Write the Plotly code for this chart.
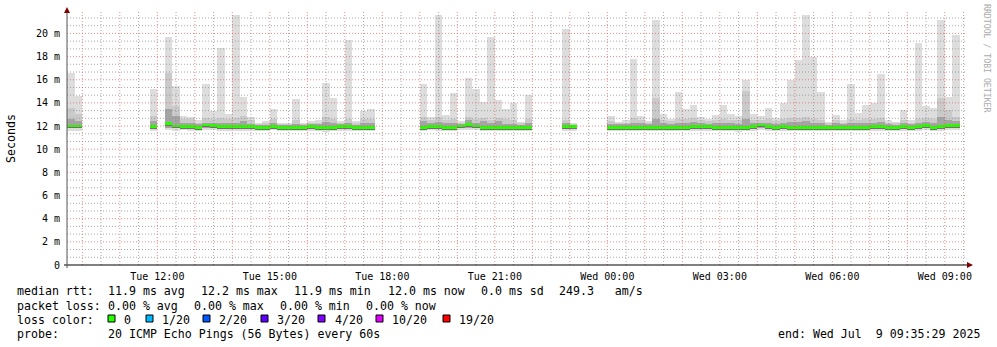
import plotly.graph_objects as go
from datetime import datetime, timedelta

# ---------------- data ----------------
range_start = "2025-07-08 09:35:29"
range_end = "2025-07-09 09:35:29"
first_bin = datetime(2025, 7, 8, 9, 36)   # start of first 12-minute bin
bin_minutes = 12

# index of each 12-min bin that has data (gaps = no data)
bin_index = [0, 1, 11] + list(range(13, 41)) + list(range(47, 62)) + [66, 67] + list(range(72, 119))

rtt_max = [16.6, 14.6, 15.2,
           19.7, 15.5, 12.9, 12.8, 12.5, 15.6, 13.3, 18.7, 13.0, 21.6, 14.5, 12.8, 12.3, 12.4,
           13.5, 12.3, 12.3, 14.3, 12.3, 12.4, 12.5, 15.7, 14.4, 12.4, 19.4, 12.4, 13.3, 13.5,
           15.6, 12.75, 21.6, 12.95, 14.85, 12.45, 16.15, 15.2, 14.1, 19.7, 14.25, 13.45, 13.95, 12.35, 14.7,
           20.4, 12.3,
           12.85, 12.35, 12.5, 17.8, 12.85, 12.45, 21.15, 13.05, 12.6, 14.95, 13.45, 13.8, 12.8, 12.6, 12.95,
           13.8, 13.05, 12.85, 16.0, 13.05, 12.85, 13.55, 12.7, 14.0, 16.0, 17.7, 21.6, 18.0, 14.95, 12.35,
           12.95, 12.5, 15.65, 13.15, 13.8, 14.0, 16.5, 12.5, 12.35, 13.4, 12.5, 19.15, 13.75, 13.55, 21.15,
           14.5, 19.85]

rtt_p19 = [13.6, 13.0, 12.9,
           16.6, 13.7, 12.6, 12.6, 12.3, 12.7, 12.6, 12.7, 12.6, 12.7, 12.9, 12.5, 12.2, 12.25,
           12.6, 12.2, 12.2, 12.5, 12.2, 12.3, 12.3, 12.8, 12.6, 12.3, 12.6, 12.3, 12.6, 12.6,
           12.8, 12.5, 12.8, 12.5, 12.6, 12.3, 12.8, 12.6, 12.7, 12.5, 12.7, 12.6, 12.5, 12.25, 12.6,
           12.5, 12.2,
           12.4, 12.25, 12.3, 12.7, 12.5, 12.3, 14.45, 12.5, 12.4, 12.6, 12.6, 12.7, 12.5, 12.4, 12.5,
           12.6, 12.5, 12.5, 15.0, 12.5, 12.5, 12.6, 12.4, 12.6, 12.7, 12.7, 12.8, 12.6, 12.5, 12.25,
           12.5, 12.3, 12.6, 12.5, 12.6, 12.6, 12.7, 12.3, 12.25, 12.5, 12.3, 12.6, 12.7, 12.6, 14.45,
           13.4, 12.8]

rtt_upq = [12.6, 12.4, 12.4,
           13.5, 12.9, 12.3, 12.3, 12.2, 12.3, 12.3, 12.3, 12.25, 12.3, 12.4, 12.2, 12.1, 12.1,
           12.3, 12.1, 12.1, 12.2, 12.1, 12.15, 12.15, 12.35, 12.25, 12.15, 12.25, 12.1, 12.3, 12.3,
           12.4, 12.3, 12.35, 12.25, 12.3, 12.2, 12.5, 12.3, 12.4, 12.3, 12.4, 12.2, 12.2, 12.1, 12.3,
           12.25, 12.1,
           12.2, 12.15, 12.15, 12.3, 12.25, 12.15, 12.6, 12.25, 12.2, 12.3, 12.3, 12.35, 12.25, 12.2, 12.25,
           12.3, 12.25, 12.2, 12.6, 12.25, 12.3, 12.3, 12.2, 12.3, 12.35, 12.35, 12.4, 12.3, 12.25, 12.1,
           12.25, 12.15, 12.3, 12.25, 12.3, 12.3, 12.35, 12.15, 12.1, 12.25, 12.15, 12.3, 12.35, 12.3, 12.8,
           12.5, 12.4]

rtt_median = [12.0, 12.0, 11.95,
              12.2, 12.0, 11.95, 11.95, 11.9, 12.1, 12.05, 11.95, 11.95, 11.95, 11.95, 11.95, 11.9, 11.9,
              11.95, 11.9, 11.9, 11.9, 11.9, 11.95, 11.9, 11.9, 11.9, 11.95, 11.95, 11.9, 11.9, 11.9,
              11.9, 11.95, 11.95, 11.9, 11.9, 12.0, 12.15, 12.0, 11.9, 11.9, 11.9, 11.9, 11.9, 11.9, 11.9,
              11.95, 11.95,
              11.9, 11.9, 11.9, 11.9, 11.9, 11.9, 11.9, 11.9, 11.9, 11.9, 11.9, 11.95, 11.95, 11.95, 11.9,
              11.9, 11.9, 11.9, 11.9, 11.95, 12.1, 11.95, 11.9, 11.95, 11.85, 11.9, 11.9, 11.9, 11.85, 11.9,
              11.9, 11.9, 11.9, 11.9, 11.9, 11.95, 11.95, 11.9, 11.9, 11.95, 11.9, 11.95, 12.05, 11.9, 11.95,
              12.05, 12.05]

rtt_lowq = [11.8, 11.8, 11.8,
            11.85, 11.8, 11.8, 11.8, 11.75, 11.85, 11.8, 11.75, 11.75, 11.75, 11.8, 11.75, 11.75, 11.75,
            11.8, 11.7, 11.7, 11.7, 11.75, 11.75, 11.7, 11.7, 11.75, 11.75, 11.75, 11.7, 11.75, 11.75,
            11.75, 11.8, 11.75, 11.75, 11.7, 11.8, 11.85, 11.8, 11.7, 11.7, 11.75, 11.75, 11.75, 11.75, 11.75,
            11.75, 11.75,
            11.75, 11.75, 11.7, 11.7, 11.75, 11.75, 11.75, 11.75, 11.75, 11.75, 11.75, 11.75, 11.75, 11.75, 11.7,
            11.75, 11.75, 11.7, 11.75, 11.75, 11.8, 11.75, 11.7, 11.75, 11.7, 11.75, 11.75, 11.75, 11.7, 11.75,
            11.75, 11.75, 11.75, 11.75, 11.7, 11.75, 11.75, 11.75, 11.75, 11.75, 11.75, 11.75, 11.8, 11.75, 11.75,
            11.8, 11.8]

rtt_min = [11.55, 11.6, 11.6,
           11.65, 11.6, 11.65, 11.6, 11.6, 11.7, 11.65, 11.6, 11.6, 11.6, 11.6, 11.55, 11.6, 11.6,
           11.65, 11.55, 11.55, 11.55, 11.6, 11.6, 11.55, 11.5, 11.6, 11.6, 11.6, 11.55, 11.6, 11.6,
           11.6, 11.65, 11.6, 11.6, 11.55, 11.65, 11.7, 11.65, 11.55, 11.55, 11.55, 11.6, 11.6, 11.6, 11.6,
           11.6, 11.6,
           11.6, 11.6, 11.55, 11.55, 11.6, 11.6, 11.55, 11.6, 11.6, 11.6, 11.6, 11.6, 11.6, 11.6, 11.55,
           11.6, 11.6, 11.5, 11.6, 11.6, 11.65, 11.6, 11.55, 11.6, 11.55, 11.6, 11.6, 11.6, 11.55, 11.6,
           11.6, 11.6, 11.6, 11.6, 11.55, 11.6, 11.6, 11.6, 11.6, 11.6, 11.6, 11.6, 11.65, 11.6, 11.6,
           11.65, 11.65]

x_tick_times = ["2025-07-08 12:00", "2025-07-08 15:00", "2025-07-08 18:00", "2025-07-08 21:00",
                "2025-07-09 00:00", "2025-07-09 03:00", "2025-07-09 06:00", "2025-07-09 09:00"]
x_tick_labels = ["Tue 12:00", "Tue 15:00", "Tue 18:00", "Tue 21:00",
                 "Wed 00:00", "Wed 03:00", "Wed 06:00", "Wed 09:00"]
y_tick_vals = [0, 2, 4, 6, 8, 10, 12, 14, 16, 18, 20]
y_tick_labels = ["0", "2 m", "4 m", "6 m", "8 m", "10 m", "12 m", "14 m", "16 m", "18 m", "20 m"]

loss_labels = ["0", "1/20", "2/20", "3/20", "4/20", "10/20", "19/20"]
loss_colors = ["#26ff00", "#00b8ff", "#0059ff", "#5e00ff", "#7e00ff", "#dd00ff", "#ff0000"]

# ---------------- layout geometry ----------------
W_FIG, H_FIG = 997, 347
L, T, W, H = 67, 12, 900, 253
Y_TOP = 21.85
MONO = "DejaVu Sans Mono"
LEG_SIZE = 11.6


def px(x):
    return (x - L) / W


def py(y):
    return (T + H - y) / H


bin_centers = [first_bin + timedelta(minutes=bin_minutes * k + bin_minutes / 2) for k in bin_index]
bin_width_ms = bin_minutes * 60 * 1000


def band(lo, hi, color):
    return go.Bar(x=bin_centers, base=lo, y=[h - l for l, h in zip(lo, hi)],
                  width=bin_width_ms, marker=dict(color=color, line=dict(width=0)),
                  hoverinfo="skip", showlegend=False)


green_half = 0.12
fig = go.Figure()
fig.add_trace(band(rtt_min, rtt_max, "#dddddd"))
fig.add_trace(band(rtt_lowq, rtt_p19, "#cacaca"))
fig.add_trace(band(rtt_lowq, rtt_upq, "#a4a4a4"))
fig.add_trace(band([m - 0.2 for m in rtt_median], [m + 0.02 for m in rtt_median], "#707070"))
fig.add_trace(band([m - green_half for m in rtt_median], [m + green_half for m in rtt_median], loss_colors[0]))

shapes = []
minor_col = "rgba(140,140,140,0.75)"
major_col = "rgba(222,80,80,0.65)"
GRID_DASH = "1px,2px"
t0 = datetime(2025, 7, 8, 10, 0)
for h in range(24):
    tmaj = t0 + timedelta(hours=h)
    shapes.append(dict(type="line", xref="x", yref="paper", x0=tmaj, x1=tmaj,
                       y0=0, y1=1, line=dict(color=major_col, width=1, dash=GRID_DASH), layer="above"))
    tm = t0 + timedelta(hours=h, minutes=30)
    shapes.append(dict(type="line", xref="x", yref="paper", x0=tm, x1=tm,
                       y0=0, y1=1, line=dict(color=minor_col, width=1, dash=GRID_DASH), layer="above"))
for k in range(1, 33):
    v = k * 2 / 3
    is_major = (k % 3 == 0)
    shapes.append(dict(type="line", xref="x", yref="y", x0=range_start, x1=range_end, y0=v, y1=v,
                       line=dict(color=major_col if is_major else minor_col, width=1, dash=GRID_DASH),
                       layer="above"))
# axes and arrows
shapes.append(dict(type="line", xref="paper", yref="paper", x0=px(64), x1=px(968), y0=0, y1=0,
                   line=dict(color="#000000", width=1), layer="above"))
shapes.append(dict(type="line", xref="paper", yref="paper", x0=0, x1=0, y0=py(268), y1=py(12),
                   line=dict(color="#555555", width=1), layer="above"))
shapes.append(dict(type="path", xref="paper", yref="paper",
                   path=f"M {px(967)} {py(262)} L {px(973)} {py(265)} L {px(967)} {py(268)} Z",
                   fillcolor="#7f0000", line=dict(width=0), layer="above"))
shapes.append(dict(type="path", xref="paper", yref="paper",
                   path=f"M {px(64)} {py(13)} L {px(67)} {py(7)} L {px(70)} {py(13)} Z",
                   fillcolor="#7f0000", line=dict(width=0), layer="above"))

# loss colour boxes
box_x = [108, 146, 203, 261, 318, 376, 443]
label_x = [123.3, 161, 218.3, 276, 333.7, 391, 457.7]
for bx, c in zip(box_x, loss_colors):
    shapes.append(dict(type="rect", xref="paper", yref="paper", x0=px(bx), x1=px(bx + 7),
                       y0=py(322), y1=py(315), fillcolor=c, line=dict(color="#000000", width=1)))


def nb(s):
    return s.replace(" ", "\u00a0")


annotations = []


def txt(x, y, s, size=LEG_SIZE, anchor="left", color="#000000", angle=0):
    annotations.append(dict(x=px(x), y=py(y), xref="paper", yref="paper", text=nb(s), showarrow=False,
                            xanchor=anchor, yanchor="middle", textangle=angle,
                            font=dict(family=MONO, size=size, color=color), borderpad=0))


y1, y2, y3, y4 = 291, 305.5, 319.5, 333.5
for x, s in [(16, "median rtt:"), (107.3, "11.9 ms avg"), (200, "12.2 ms max"), (293.3, "11.9 ms min"),
             (386.7, "12.0 ms now"), (480, "0.0 ms sd"), (558.3, "249.3   am/s")]:
    txt(x, y1, s)
for x, s in [(16, "packet loss:"), (107.3, "0.00 % avg"), (193.3, "0.00 % max"), (279.3, "0.00 % min"),
             (365.3, "0.00 % now")]:
    txt(x, y2, s)
txt(16, y3, "loss color:")
for x, s in zip(label_x, loss_labels):
    txt(x, y3, s)
txt(16, y4, "probe:")
txt(107.3, y4, "20 ICMP Echo Pings (56 Bytes) every 60s")
txt(981, y4, "end: Wed Jul  9 09:35:29 2025", anchor="right")
txt(11, 139, "Seconds", angle=-90, anchor="center")
txt(987, 59, "RRDTOOL / TOBI OETIKER", size=8.2, anchor="center", color="#aaaaaa", angle=90)

fig.update_layout(
    width=W_FIG, height=H_FIG,
    margin=dict(l=L, r=W_FIG - L - W, t=T, b=H_FIG - T - H),
    paper_bgcolor="white", plot_bgcolor="white",
    barmode="overlay", bargap=0, showlegend=False,
    shapes=shapes, annotations=annotations,
    xaxis=dict(type="date", range=[range_start, range_end], tickvals=x_tick_times, ticktext=x_tick_labels,
               showgrid=False, zeroline=False, showline=False, ticks="", ticklabelstandoff=4,
               tickfont=dict(family=MONO, size=10, color="#000000")),
    yaxis=dict(range=[0, Y_TOP], tickvals=y_tick_vals, ticktext=y_tick_labels, showgrid=False,
               zeroline=False, showline=False, ticks="", ticklabelstandoff=6,
               tickfont=dict(family=MONO, size=10, color="#000000")),
)
fig.write_html("out.html")
